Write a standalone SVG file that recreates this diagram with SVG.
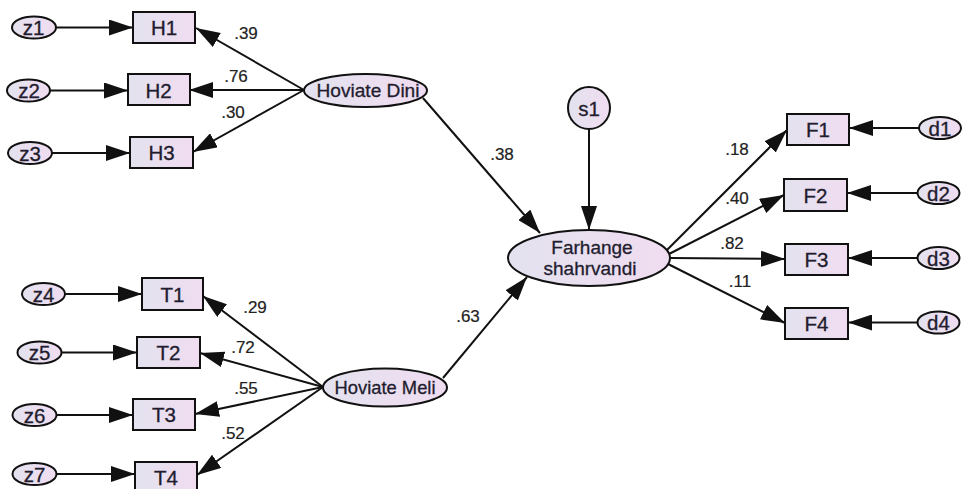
<svg xmlns="http://www.w3.org/2000/svg" width="962" height="489" viewBox="0 0 962 489">
<defs>
<linearGradient id="fillg" x1="0" y1="0" x2="1" y2="0">
<stop offset="0" stop-color="#e3e2ef"/>
<stop offset="1" stop-color="#f0dcf0"/>
</linearGradient>
<marker id="ah" markerUnits="userSpaceOnUse" markerWidth="24" markerHeight="16" refX="24" refY="8" orient="auto">
<path d="M0,0 L24,8 L0,16 z" fill="#111"/>
</marker>
<style>
.n{fill:url(#fillg);stroke:#111;stroke-width:2}
.t{font-family:"Liberation Sans",Arial,sans-serif;fill:#221c2e;stroke:#221c2e;stroke-width:0.3;text-anchor:middle}
.b{font-size:20.5px}
.s{font-size:20.5px}
.m{font-size:19px}
.l{font-family:"Liberation Sans",Arial,sans-serif;fill:#222;stroke:#222;stroke-width:0.2;text-anchor:middle;font-size:17px}
#edges line{stroke:#111;stroke-width:2;marker-end:url(#ah)}
</style>
</defs>
<rect width="962" height="489" fill="#fff"/>
<g id="edges">
<line x1="56" y1="27.5" x2="133" y2="27.5"/>
<line x1="50" y1="90.5" x2="128" y2="90.5"/>
<line x1="52" y1="153" x2="130" y2="153"/>
<line x1="65" y1="294" x2="142" y2="294"/>
<line x1="61.5" y1="352.5" x2="137" y2="352.5"/>
<line x1="56.5" y1="415" x2="133" y2="415"/>
<line x1="56.5" y1="474" x2="135" y2="474"/>
<line x1="304" y1="90" x2="196" y2="28"/>
<line x1="304" y1="90" x2="189" y2="90"/>
<line x1="304" y1="90" x2="193" y2="152"/>
<line x1="323" y1="387" x2="203" y2="296"/>
<line x1="323" y1="387" x2="200" y2="353"/>
<line x1="323" y1="387" x2="195" y2="414"/>
<line x1="323" y1="387" x2="197" y2="475"/>
<line x1="423" y1="98" x2="540" y2="233"/>
<line x1="443" y1="378" x2="527" y2="277"/>
<line x1="589" y1="129" x2="589" y2="230"/>
<line x1="667" y1="250" x2="787" y2="130"/>
<line x1="669" y1="254" x2="784" y2="195"/>
<line x1="670" y1="258" x2="785" y2="259"/>
<line x1="668" y1="264" x2="785" y2="323"/>
<line x1="919" y1="128" x2="849" y2="128"/>
<line x1="917.5" y1="193" x2="847" y2="193"/>
<line x1="917.5" y1="258" x2="848" y2="258"/>
<line x1="917.5" y1="322.5" x2="848" y2="322.5"/>
<text class="l" x="246" y="39">.39</text>
<text class="l" x="236" y="82">.76</text>
<text class="l" x="233" y="118">.30</text>
<text class="l" x="255" y="313">.29</text>
<text class="l" x="243" y="353">.72</text>
<text class="l" x="246" y="394">.55</text>
<text class="l" x="233" y="439">.52</text>
<text class="l" x="502" y="160">.38</text>
<text class="l" x="468" y="322">.63</text>
<text class="l" x="737" y="155">.18</text>
<text class="l" x="737" y="204">.40</text>
<text class="l" x="732" y="249">.82</text>
<text class="l" x="740" y="287">.11</text>
</g>
<g id="z1"><ellipse class="n" cx="34" cy="27.5" rx="22" ry="11"/><text class="t s" x="33.5" y="35">z1</text></g>
<g id="z2"><ellipse class="n" cx="28.5" cy="90.5" rx="21.5" ry="11"/><text class="t s" x="29" y="98">z2</text></g>
<g id="z3"><ellipse class="n" cx="30" cy="153" rx="22" ry="11"/><text class="t s" x="30" y="160.5">z3</text></g>
<g id="z4"><ellipse class="n" cx="43.5" cy="294" rx="21.5" ry="11"/><text class="t s" x="43.5" y="301.5">z4</text></g>
<g id="z5"><ellipse class="n" cx="39.5" cy="352.5" rx="22" ry="11"/><text class="t s" x="39.5" y="360">z5</text></g>
<g id="z6"><ellipse class="n" cx="34.5" cy="415" rx="22" ry="11"/><text class="t s" x="34.5" y="422.5">z6</text></g>
<g id="z7"><ellipse class="n" cx="34.5" cy="474" rx="22" ry="11"/><text class="t s" x="34.5" y="481.5">z7</text></g>
<g id="H1"><rect class="n" x="133" y="12" width="62" height="31"/><text class="t b" x="164" y="35">H1</text></g>
<g id="H2"><rect class="n" x="128" y="74" width="62" height="31"/><text class="t b" x="158.5" y="97.5">H2</text></g>
<g id="H3"><rect class="n" x="130" y="137" width="63" height="31"/><text class="t b" x="161.5" y="160">H3</text></g>
<g id="T1"><rect class="n" x="142" y="278" width="61" height="32"/><text class="t b" x="172.5" y="301.5">T1</text></g>
<g id="T2"><rect class="n" x="137" y="337" width="63" height="31"/><text class="t b" x="168.5" y="360">T2</text></g>
<g id="T3"><rect class="n" x="133" y="399" width="62" height="31"/><text class="t b" x="164" y="422">T3</text></g>
<g id="T4"><rect class="n" x="135" y="462" width="62" height="31"/><text class="t b" x="166" y="485">T4</text></g>
<g id="HoviateDini"><ellipse class="n" cx="365.5" cy="90.5" rx="61.5" ry="16.5"/><text class="t m" x="368" y="96.5" textLength="103" lengthAdjust="spacingAndGlyphs">Hoviate Dini</text></g>
<g id="HoviateMeli"><ellipse class="n" cx="385" cy="387.5" rx="62" ry="19"/><text class="t m" x="385" y="394" textLength="101" lengthAdjust="spacingAndGlyphs">Hoviate Meli</text></g>
<g id="s1"><circle class="n" cx="589" cy="108" r="21"/><text class="t b" x="589" y="115.5">s1</text></g>
<g id="Farhange"><ellipse class="n" cx="589" cy="258" rx="81" ry="28"/><text class="t m" x="592" y="254">Farhange</text><text class="t m" x="590" y="274.5">shahrvandi</text></g>
<g id="F1"><rect class="n" x="787" y="114" width="62" height="31"/><text class="t b" x="818" y="137">F1</text></g>
<g id="F2"><rect class="n" x="784" y="179" width="63" height="32"/><text class="t b" x="815.5" y="202.5">F2</text></g>
<g id="F3"><rect class="n" x="785" y="244" width="63" height="31"/><text class="t b" x="816.5" y="267">F3</text></g>
<g id="F4"><rect class="n" x="785" y="308" width="63" height="31"/><text class="t b" x="816.5" y="331">F4</text></g>
<g id="d1"><ellipse class="n" cx="940" cy="128" rx="21" ry="11"/><text class="t s" x="940" y="135.5">d1</text></g>
<g id="d2"><ellipse class="n" cx="938.5" cy="193" rx="21" ry="11"/><text class="t s" x="938.5" y="200.5">d2</text></g>
<g id="d3"><ellipse class="n" cx="938.5" cy="258" rx="21" ry="11"/><text class="t s" x="938.5" y="265.5">d3</text></g>
<g id="d4"><ellipse class="n" cx="938.5" cy="322.5" rx="21" ry="11"/><text class="t s" x="938.5" y="330">d4</text></g>
</svg>
